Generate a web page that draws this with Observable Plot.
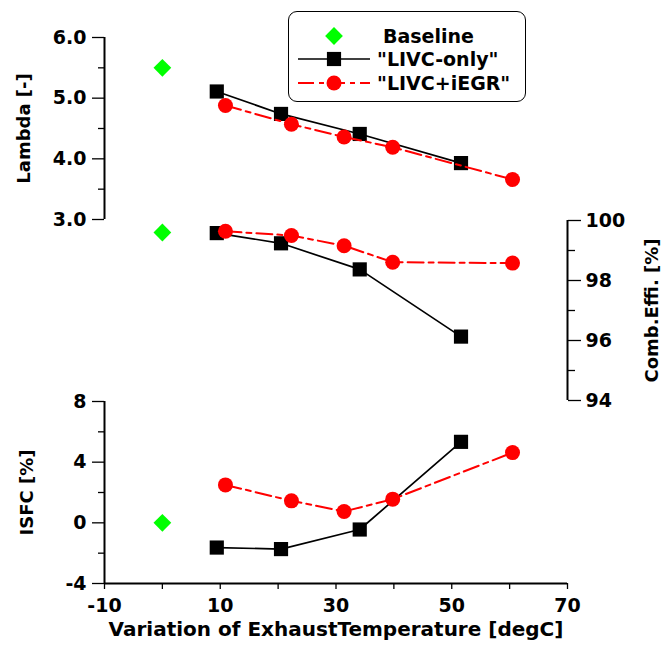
<!DOCTYPE html>
<html>
<head>
<meta charset="utf-8">
<script src="https://cdn.jsdelivr.net/npm/d3@7"></script>
<script src="https://cdn.jsdelivr.net/npm/@observablehq/plot@0.6"></script>
<style>
  body { margin: 0; background: #fff; }
  #chart { position: relative; width: 663px; height: 651px; background: #fff; font-family: "DejaVu Sans", sans-serif; }
  #chart svg.panel { position: absolute; left: 0; overflow: visible; }
  #chart svg.panel g[aria-label$="tick label"] { font-size: 19px !important; font-weight: bold; font-family: "DejaVu Sans", sans-serif; }
  #chart svg.panel g[aria-label$="tick label"] text { font-size: 19px !important; }
  #legend { position: absolute; left: 288px; top: 11px; width: 238px; height: 91px; border: 1.3px solid #000; border-radius: 9px; background: #fff; box-sizing: border-box; }
  #legend svg { position: absolute; left: 0; top: 0; overflow: visible; }
</style>
</head>
<body>
<div id="chart"></div>
<script>
// ---- data ----
const xDomain = [-10, 70];
const xMajor = [-10, 10, 30, 50, 70];
const xMinor = [0, 20, 40, 60];

const lambdaDomain = [3, 6];
const lambdaTicks = [3, 4, 5, 6];
const lambdaMinor = [3.5, 4.5, 5.5];

const effDomain = [94, 100];
const effTicks = [94, 96, 98, 100];
const effMinor = [95, 97, 99];

const isfcDomain = [-4, 8];
const isfcTicks = [-4, 0, 4, 8];
const isfcMinor = [-2, 2, 6];

const seriesNames = ["Baseline", "\"LIVC-only\"", "\"LIVC+iEGR\""];

const baseX = [0];
const baseLambda = [5.5];
const baseEff = [99.6];
const baseISFC = [0];

const livcX = [9.4, 20.5, 34.1, 51.6];
const livcLambda = [5.11, 4.74, 4.41, 3.93];
const livcEff = [99.58, 99.24, 98.37, 96.13];
const livcISFC = [-1.63, -1.73, -0.44, 5.34];

const egrX = [10.9, 22.3, 31.4, 39.8, 60.5];
const egrLambda = [4.88, 4.57, 4.36, 4.19, 3.66];
const egrEff = [99.64, 99.50, 99.16, 98.61, 98.58];
const egrISFC = [2.50, 1.45, 0.75, 1.56, 4.63];

const titles = { lambda: "Lambda [-]", eff: "Comb.Effi. [%]", isfc: "ISFC [%]", x: "Variation of ExhaustTemperature [degC]" };

// ---- styles ----
const GREEN = "#00ff00", RED = "#ff0000", BLACK = "#000000";
const DASH = "16,5,5,5";
const FONT = "DejaVu Sans";
const TICKFONT = 19;

const zip = (xs, ys) => xs.map((x, i) => ({ x, y: ys[i] }));

function seriesMarks(base, livc, egr) {
  return [
    Plot.line(livc, { x: "x", y: "y", stroke: BLACK, strokeWidth: 1.7 }),
    Plot.dot(livc, { x: "x", y: "y", symbol: "square", r: 8, fill: BLACK, stroke: "none" }),
    Plot.line(egr, { x: "x", y: "y", stroke: RED, strokeWidth: 2, strokeDasharray: DASH }),
    Plot.dot(egr, { x: "x", y: "y", symbol: "circle", r: 7.5, fill: RED, stroke: "none" }),
    Plot.dot(base, { x: "x", y: "y", symbol: "diamond2", r: 8, fill: GREEN, stroke: "none" })
  ];
}

const tickText = { fontSize: TICKFONT, fontWeight: "bold", fontFamily: FONT, fill: BLACK };
const titleText = { rotate: -90, textAnchor: "middle", lineAnchor: "middle", fontSize: 18, fontWeight: "bold", fontFamily: FONT, fill: BLACK };

const common = {
  width: 663,
  marginLeft: 104,
  marginRight: 96,
  style: { fontFamily: FONT, fontWeight: "bold", fontSize: "19px", background: "transparent", overflow: "visible", color: "#000" }
};

const chart = document.getElementById("chart");

// ---- top panel: Lambda ----
const p1 = Plot.plot({
  ...common,
  height: 220, marginTop: 37, marginBottom: 1,
  x: { domain: xDomain, axis: null },
  y: { domain: lambdaDomain, axis: null },
  marks: [
    Plot.ruleX([xDomain[0]], { y1: lambdaDomain[0], y2: lambdaDomain[1], stroke: BLACK, strokeWidth: 2 }),
    Plot.axisY(lambdaTicks, { anchor: "left", tickSize: 12, tickPadding: 6, strokeWidth: 1.3, tickFormat: d3.format(".1f"), label: null, ...tickText }),
    Plot.axisY(lambdaMinor, { anchor: "left", tickSize: 6, strokeWidth: 1.3, tickFormat: () => "", label: null }),
    Plot.text([titles.lambda], { frameAnchor: "left", dx: -80, ...titleText }),
    ...seriesMarks(zip(baseX, baseLambda), zip(livcX, livcLambda), zip(egrX, egrLambda))
  ]
});

// ---- middle panel: Comb. efficiency ----
const p2 = Plot.plot({
  ...common,
  height: 180, marginTop: 0, marginBottom: 0,
  x: { domain: xDomain, axis: null },
  y: { domain: effDomain, axis: null },
  marks: [
    Plot.ruleX([xDomain[1]], { y1: effDomain[0], y2: effDomain[1], stroke: BLACK, strokeWidth: 2 }),
    Plot.axisY(effTicks, { anchor: "right", tickSize: 13, tickPadding: 5, strokeWidth: 1.3, tickFormat: d => String(d), label: null, ...tickText }),
    Plot.axisY(effMinor, { anchor: "right", tickSize: 7, strokeWidth: 1.3, tickFormat: () => "", label: null }),
    Plot.text([titles.eff], { frameAnchor: "right", dx: 85, ...titleText }),
    ...seriesMarks(zip(baseX, baseEff), zip(livcX, livcEff), zip(egrX, egrEff))
  ]
});

// ---- bottom panel: ISFC ----
const p3 = Plot.plot({
  ...common,
  height: 251, marginTop: 1, marginBottom: 68,
  x: { domain: xDomain, axis: null },
  y: { domain: isfcDomain, axis: null },
  marks: [
    Plot.ruleX([xDomain[0]], { y1: isfcDomain[0], y2: isfcDomain[1], stroke: BLACK, strokeWidth: 2 }),
    Plot.ruleY([isfcDomain[0]], { x1: xDomain[0], x2: xDomain[1], stroke: BLACK, strokeWidth: 2 }),
    Plot.axisY(isfcTicks, { anchor: "left", tickSize: 12, tickPadding: 6, strokeWidth: 1.3, tickFormat: d => String(d), label: null, ...tickText }),
    Plot.axisY(isfcMinor, { anchor: "left", tickSize: 6, strokeWidth: 1.3, tickFormat: () => "", label: null }),
    Plot.axisX(xMajor, { anchor: "bottom", tickSize: 6, tickPadding: 9, strokeWidth: 1.3, tickFormat: d => String(d), label: null, ...tickText }),
    Plot.axisX(xMinor, { anchor: "bottom", tickSize: 6, strokeWidth: 1.3, tickFormat: () => "", label: null }),
    Plot.text([titles.isfc], { frameAnchor: "left", dx: -77, ...titleText }),
    Plot.text([titles.x], { frameAnchor: "bottom", dy: 52, fontSize: 20, fontWeight: "bold", fontFamily: FONT, fill: BLACK }),
    ...seriesMarks(zip(baseX, baseISFC), zip(livcX, livcISFC), zip(egrX, egrISFC))
  ]
});

[[p1, 0], [p2, 220], [p3, 400]].forEach(([svg, top]) => {
  svg.classList.add("panel");
  svg.style.top = top + "px";
  // make tick labels the reference size
  svg.querySelectorAll('g[aria-label$="tick label"]').forEach(g => {
    g.setAttribute("font-size", TICKFONT);
    g.style.fontSize = TICKFONT + "px";
    g.querySelectorAll("text").forEach(t => t.style.fontSize = TICKFONT + "px");
  });
  chart.appendChild(svg);
});

// ---- legend ----
const legend = document.createElement("div");
legend.id = "legend";
const ls = d3.create("svg").attr("width", 238).attr("height", 91);
const rows = [24, 47, 71];
// Baseline
ls.append("path").attr("d", d3.symbol(d3.symbolDiamond2, Math.PI * 64)()).attr("transform", `translate(45,${rows[0]})`).attr("fill", GREEN);
// LIVC-only
ls.append("line").attr("x1", 9).attr("x2", 81).attr("y1", rows[1]).attr("y2", rows[1]).attr("stroke", BLACK).attr("stroke-width", 1.7);
ls.append("path").attr("d", d3.symbol(d3.symbolSquare, Math.PI * 64)()).attr("transform", `translate(45,${rows[1]})`).attr("fill", BLACK);
// LIVC+iEGR
ls.append("line").attr("x1", 9).attr("x2", 81).attr("y1", rows[2]).attr("y2", rows[2]).attr("stroke", RED).attr("stroke-width", 2).attr("stroke-dasharray", DASH);
ls.append("circle").attr("cx", 45).attr("cy", rows[2]).attr("r", 7.5).attr("fill", RED);
const textX = [94, 88, 88];
seriesNames.forEach((name, i) => {
  ls.append("text").attr("x", textX[i]).attr("y", rows[i]).attr("dy", "0.35em")
    .attr("font-family", FONT).attr("font-weight", "bold").attr("font-size", 19).attr("fill", BLACK)
    .text(name);
});
legend.appendChild(ls.node());
chart.appendChild(legend);
</script>
</body>
</html>
